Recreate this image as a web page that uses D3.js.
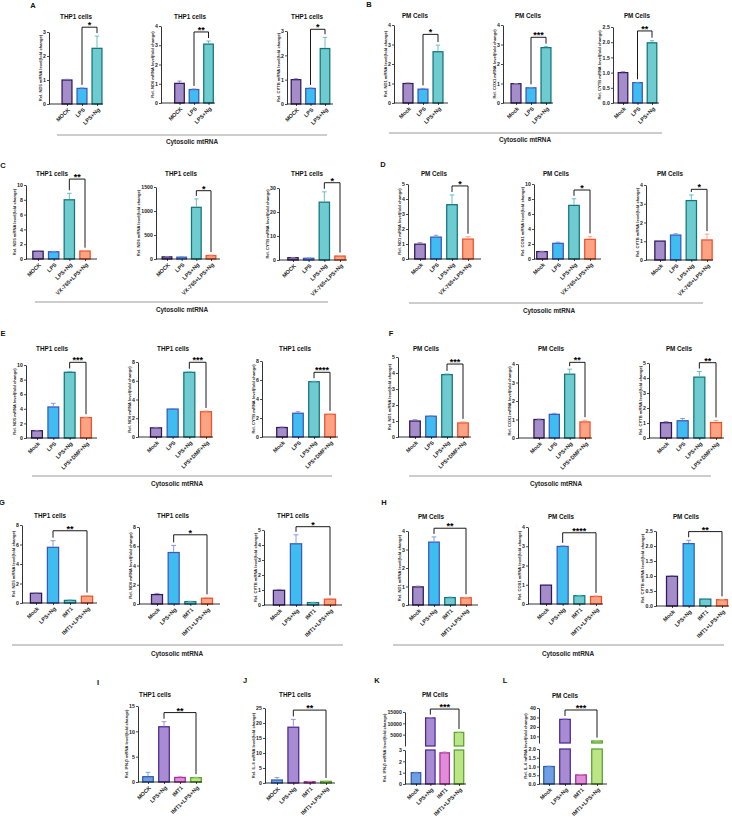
<!DOCTYPE html>
<html>
<head>
<meta charset="utf-8">
<script src="https://cdn.jsdelivr.net/npm/d3@7"></script>
<style>
  body { margin: 0; background: #fff; }
  svg { display: block; font-family: "Liberation Sans", Arial, Helvetica, sans-serif; }
</style>
</head>
<body>
<svg id="fig" width="732" height="819"></svg>
<script>
// ---- categories ----
const catTHP = ["MOCK", "LPS", "LPS+Ng"];
const catPM = ["Mock", "LPS", "LPS+Ng"];
const catTHPvx = ["MOCK", "LPS", "LPS+Ng", "VX-765+LPS+Ng"];
const catPMvx = ["Mock", "LPS", "LPS+Ng", "VX-765+LPS+Ng"];
const catDMF = ["Mock", "LPS", "LPS+Ng", "LPS+DMF+Ng"];
const catIMT = ["Mock", "LPS+Ng", "IMT1", "IMT1+LPS+Ng"];
const catIMTcap = ["MOCK", "LPS+Ng", "IMT1", "IMT1+LPS+Ng"];

const genesTHP = ["ND5", "ND6", "CYTB"];
const genesPM = ["ND1", "COX1", "CYTB"];

// ---- means and SD (one row per gene) ----
const valA = [[1.0, 0.65, 2.32], [1.02, 0.70, 3.06], [1.0, 0.64, 2.28]];
const errA = [[0.03, 0.02, 0.51], [0.12, 0.03, 0.16], [0.04, 0.02, 0.46]];
const valB = [[1.0, 0.71, 2.63], [0.99, 0.78, 2.84], [1.0, 0.67, 1.98]];
const errB = [[0.03, 0.04, 0.34], [0.01, 0.02, 0.05], [0.03, 0.01, 0.07]];
const valC = [[1.05, 0.98, 8.0, 1.08], [45, 38, 1077, 72], [0.97, 0.72, 24.1, 1.65]];
const errC = [[0.05, 0.05, 0.88, 0.04], [8, 6, 175, 10], [0.1, 0.08, 4.3, 0.2]];
const valD = [[0.99, 1.46, 3.62, 1.33], [0.99, 2.09, 7.15, 2.62], [1.01, 1.33, 3.17, 1.07]];
const errD = [[0.1, 0.12, 0.65, 0.16], [0.03, 0.16, 0.88, 0.4], [0.03, 0.07, 0.3, 0.31]];
const valE = [[1.0, 4.25, 9.0, 2.8], [0.98, 2.98, 6.9, 2.7], [1.0, 2.5, 5.82, 2.39]];
const errE = [[0.04, 0.5, 0.12, 0.05], [0.05, 0.06, 0.06, 0.08], [0.05, 0.16, 0.05, 0.04]];
const valF = [[1.0, 1.3, 3.9, 0.88], [1.0, 1.28, 3.45, 0.87], [1.02, 1.15, 4.06, 1.03]];
const errF = [[0.08, 0.02, 0.04, 0.07], [0.02, 0.05, 0.27, 0.09], [0.07, 0.15, 0.37, 0.14]];
const valG = [[1.0, 5.71, 0.27, 0.7], [0.98, 5.35, 0.25, 0.6], [0.98, 4.08, 0.16, 0.39]];
const errG = [[0.04, 0.68, 0.04, 0.06], [0.12, 0.74, 0.03, 0.09], [0.06, 0.6, 0.02, 0.05]];
const valH = [[0.98, 3.4, 0.4, 0.39], [0.98, 2.99, 0.43, 0.39], [0.99, 2.08, 0.23, 0.21]];
const errH = [[0.04, 0.28, 0.03, 0.03], [0.03, 0.03, 0.02, 0.03], [0.02, 0.11, 0.01, 0.01]];
const valI = [1.05, 10.9, 0.9, 0.85];
const errI = [0.85, 1.0, 0.15, 0.1];
const valJ = [1.0, 18.6, 0.45, 0.55];
const errJ = [0.8, 2.6, 0.1, 0.12];
const valK = [1.0, 12400, 2.75, 6000];
const errK = [0.04, 150, 0.08, 150];
const valL = [1.0, 28, 0.52, 5.2];
const errL = [0.02, 0.4, 0.02, 0.3];

// ---- y axis [max, step] ----
const axA = [[3, 1], [4, 1], [3, 1]];
const axB = [[4, 1], [4, 1], [2.5, 0.5]];
const axC = [[10, 2], [1500, 500], [30, 10]];
const axD = [[5, 1], [10, 2], [4, 1]];
const axE = [[10, 2], [8, 2], [8, 2]];
const axF = [[5, 1], [4, 1], [5, 1]];
const axG = [[8, 2], [8, 2], [5, 1]];
const axH = [[4, 1], [4, 1], [2.5, 0.5]];
const axI = [15, 5];
const axJ = [25, 5];
const ticksKlow = [0, 1, 2, 3], ticksKup = [5000, 10000, 15000];
const ticksLlow = [0, 0.5, 1.0, 1.5, 2.0], ticksLup = [10, 20, 30, 40];

// ---- significance labels and bracket level (data units) ----
const sigA = ["*", "**", "*"], brA = [3.2, 3.69, 3.07];
const sigB = ["*", "***", "**"], brB = [3.52, 3.37, 2.37];
const sigC = ["**", "*", "*"], brC = [10.8, 1423, 32.2];
const sigD = ["*", "*", "*"], brD = [4.87, 9.2, 3.77];
const sigE = ["***", "***", "****"], brE = [10.37, 7.97, 6.81];
const sigF = ["***", "**", "**"], brF = [4.56, 4.09, 5.02];
const sigG = ["**", "*", "*"], brG = [7.41, 7.19, 5.22];
const sigH = ["**", "****", "**"], brH = [4.15, 3.7, 2.48];

// ---- colours ----
const colMock = { fill: "#a48dc9", stroke: "#2c1a5a", err: "#8f7fc0" };
const colLPS = { fill: "#3fbdf1", stroke: "#3c57bd", err: "#7d8fdc" };
const colLPSNg = { fill: "#6ecbd0", stroke: "#13747c", err: "#58b7c0" };
const colInh = { fill: "#fba383", stroke: "#f0502a", err: "#f6a085" };
const colBlue = { fill: "#6f9fe2", stroke: "#2e5cb0", err: "#6f9fe2" };
const colViolet = { fill: "#a88bd3", stroke: "#4a2993", err: "#9b84cf" };
const colPink = { fill: "#e28bd9", stroke: "#a42f9a", err: "#d88ad0" };
const colGreen = { fill: "#bde486", stroke: "#55a12c", err: "#a8d880" };

// ---- layout: [axisX, axisEnd, firstBar, lastBar, yTop, yBot, titleX] ----
const boxA = [[49, 103, 67, 97, 32, 104, 76], [161, 215, 179.5, 208.5, 26, 103, 190], [287, 333, 296, 325, 31, 104, 307]];
const boxB = [[394, 448, 408, 438, 25, 103, 415], [503, 553, 516, 546, 25, 103, 528], [613, 659, 623, 652, 27, 103, 637]];
const boxC = [[26, 97, 38, 85, 185, 259, 52], [156, 220, 167, 211, 187, 259, 181], [279, 347, 293, 340, 188, 260, 307]];
const boxD = [[408, 481, 420, 468, 184, 259, 434], [534, 601, 542, 590, 184, 259, 556], [646, 713, 660, 707, 185, 260, 670]];
const boxE = [[26, 97, 37, 86, 365, 438, 52], [138, 213, 156, 206, 362, 437, 173], [262, 338, 282, 330, 361, 437, 295]];
const boxF = [[398, 471, 415, 463, 357, 437, 426], [518, 592, 539, 585, 364, 438, 551], [649, 724, 666, 716, 363, 438, 679]];
const boxG = [[22, 97, 36, 87, 525, 603, 50], [139, 220, 157, 207, 527, 604, 173], [264, 342, 279, 330, 530, 605, 293]];
const boxH = [[408, 478, 418, 466, 531, 605, 431], [528, 603, 546, 596, 527, 604, 561], [656, 729, 672, 722, 531, 606, 686]];

const svg = d3.select("#fig");

function fmtFor(step) {
  return step < 1 ? d3.format(".1f") : d3.format("d");
}

// generic bar panel; segs lets an axis be broken in two pieces
function drawPanel(o) {
  const g = svg.append("g");
  const x = d3.scalePoint().domain(o.cats).range([o.c0, o.cN]);
  const bw = x.step() * 0.66;
  const segs = o.segs.map(s => Object.assign({}, s, {
    sc: d3.scaleLinear().domain([s.d0, s.d1]).range([s.r0, s.r1])
  }));
  const top = segs[segs.length - 1];

  function yOf(v) {
    for (const s of segs) {
      if (v <= s.d1) return v < s.d0 ? s.r0 : s.sc(v);
    }
    return top.sc(v);
  }

  // y axis pieces
  let minX = 0;
  segs.forEach(s => {
    const ya = g.append("g").attr("transform", `translate(${o.x0},0)`)
      .call(d3.axisLeft(s.sc).tickValues(s.ticks).tickSize(2).tickPadding(1.2).tickSizeOuter(0).tickFormat(s.fmt));
    ya.attr("font-family", null);
    ya.select(".domain").attr("stroke", "#000").attr("stroke-width", 0.8);
    ya.selectAll(".tick line").attr("stroke", "#000").attr("stroke-width", 0.7);
    ya.selectAll("text").attr("font-size", 5.2).attr("font-weight", "bold").attr("fill", "#222");
    const bb = ya.node().getBBox();
    minX = Math.min(minX, bb.x);
  });

  g.append("text")
    .attr("transform", `translate(${o.x0 + minX - 1.2},${(o.yTop + o.yBot) / 2}) rotate(-90)`)
    .attr("text-anchor", "middle")
    .attr("font-size", 4.1).attr("font-weight", "bold").attr("fill", "#222")
    .text(o.ylab);

  // bars (one piece per axis segment the value reaches)
  o.vals.forEach((v, i) => {
    const c = o.cols[i];
    const cx = x(o.cats[i]);
    segs.forEach((s, k) => {
      if (k > 0 && v <= segs[k - 1].d1) return;
      const yt = s.sc(Math.min(v, s.d1));
      g.append("rect")
        .attr("x", cx - bw / 2).attr("y", yt)
        .attr("width", bw).attr("height", Math.max(0, s.r0 - yt))
        .attr("fill", c.fill).attr("stroke", c.stroke).attr("stroke-width", 1.25);
    });
    // error bar (mean + SD)
    const e = o.errs[i];
    const y1 = yOf(v), y2 = yOf(v + e);
    g.append("line").attr("x1", cx).attr("x2", cx).attr("y1", y1 - 0.6).attr("y2", y2)
      .attr("stroke", c.err).attr("stroke-width", 0.9);
    g.append("line").attr("x1", cx - bw * 0.22).attr("x2", cx + bw * 0.22).attr("y1", y2).attr("y2", y2)
      .attr("stroke", c.err).attr("stroke-width", 0.9);
  });

  // x axis
  g.append("line").attr("x1", o.x0).attr("x2", o.x1).attr("y1", o.yBot).attr("y2", o.yBot)
    .attr("stroke", "#000").attr("stroke-width", 0.8);
  const xa = g.append("g").attr("transform", `translate(0,${o.yBot})`)
    .call(d3.axisBottom(x).tickSize(2).tickSizeOuter(0));
  xa.select(".domain").remove();
  xa.attr("font-family", null);
  xa.selectAll(".tick line").attr("stroke", "#000").attr("stroke-width", 0.7);
  xa.selectAll("text")
    .attr("x", 0).attr("y", 0).attr("dy", "0.35em")
    .attr("transform", "translate(1.4,4.8) rotate(-45)")
    .attr("text-anchor", "end")
    .attr("font-size", 5.5).attr("font-weight", "bold").attr("fill", "#222");

  // title
  g.append("text").attr("x", o.tx).attr("y", o.ty + 2.2)
    .attr("text-anchor", "middle").attr("font-size", 6.3).attr("font-weight", "bold")
    .attr("fill", "#111").text(o.title);

  // significance bracket
  const [i, j] = o.pair;
  const xi = x(o.cats[i]), xj = x(o.cats[j]);
  const yb = yOf(o.br);
  const li = yOf(o.vals[i] + o.errs[i]) - 3;
  const lj = yOf(o.vals[j] + o.errs[j]) - 3;
  g.append("path")
    .attr("d", `M${xi},${li}V${yb}H${xj}V${lj}`)
    .attr("fill", "none").attr("stroke", "#000").attr("stroke-width", 0.9);
  g.append("text").attr("x", (xi + xj) / 2).attr("y", yb + 1)
    .attr("text-anchor", "middle").attr("font-size", 9).attr("font-weight", "bold")
    .attr("fill", "#000").text(o.sig);
}

function simpleSeg(max, step, yTop, yBot) {
  return [{ d0: 0, d1: max, r0: yBot, r1: yTop, ticks: d3.range(0, max + step / 2, step), fmt: fmtFor(step) }];
}

// ---- rows A to H ----
const rows = [
  { cats: catTHP, genes: genesTHP, cell: "THP1 cells", val: valA, err: errA, ax: axA, sig: sigA, br: brA, pair: [1, 2], cols: [colMock, colLPS, colLPSNg], box: boxA, ty: 17 },
  { cats: catPM, genes: genesPM, cell: "PM Cells", val: valB, err: errB, ax: axB, sig: sigB, br: brB, pair: [1, 2], cols: [colMock, colLPS, colLPSNg], box: boxB, ty: 16 },
  { cats: catTHPvx, genes: genesTHP, cell: "THP1 cells", val: valC, err: errC, ax: axC, sig: sigC, br: brC, pair: [2, 3], cols: [colMock, colLPS, colLPSNg, colInh], box: boxC, ty: 174 },
  { cats: catPMvx, genes: genesPM, cell: "PM Cells", val: valD, err: errD, ax: axD, sig: sigD, br: brD, pair: [2, 3], cols: [colMock, colLPS, colLPSNg, colInh], box: boxD, ty: 174 },
  { cats: catDMF, genes: genesTHP, cell: "THP1 cells", val: valE, err: errE, ax: axE, sig: sigE, br: brE, pair: [2, 3], cols: [colMock, colLPS, colLPSNg, colInh], box: boxE, ty: 349 },
  { cats: catDMF, genes: genesPM, cell: "PM Cells", val: valF, err: errF, ax: axF, sig: sigF, br: brF, pair: [2, 3], cols: [colMock, colLPS, colLPSNg, colInh], box: boxF, ty: 349 },
  { cats: catIMT, genes: genesTHP, cell: "THP1 cells", val: valG, err: errG, ax: axG, sig: sigG, br: brG, pair: [1, 3], cols: [colMock, colLPS, colLPSNg, colInh], box: boxG, ty: 516 },
  { cats: catIMT, genes: genesPM, cell: "PM Cells", val: valH, err: errH, ax: axH, sig: sigH, br: brH, pair: [1, 3], cols: [colMock, colLPS, colLPSNg, colInh], box: boxH, ty: 517 }
];

rows.forEach(r => {
  r.genes.forEach((gene, k) => {
    const b = r.box[k];
    drawPanel({
      cats: r.cats, vals: r.val[k], errs: r.err[k], cols: r.cols,
      x0: b[0], x1: b[1], c0: b[2], cN: b[3], yTop: b[4], yBot: b[5], tx: b[6], ty: r.ty,
      segs: simpleSeg(r.ax[k][0], r.ax[k][1], b[4], b[5]),
      title: r.cell, ylab: `Rel. ${gene} mRNA level(fold change)`,
      pair: r.pair, sig: r.sig[k], br: r.br[k]
    });
  });
});

// ---- bottom row I to L ----
const colsIMT = [colBlue, colViolet, colPink, colGreen];
drawPanel({
  cats: catIMTcap, vals: valI, errs: errI, cols: colsIMT,
  x0: 138, x1: 202, c0: 148, cN: 196, yTop: 706, yBot: 782, tx: 155, ty: 695,
  segs: simpleSeg(axI[0], axI[1], 706, 782),
  title: "THP1 cells", ylab: "Rel. IFN-β mRNA level(fold change)", pair: [1, 3], sig: "**", br: 13.7
});
drawPanel({
  cats: catIMTcap, vals: valJ, errs: errJ, cols: colsIMT,
  x0: 265, x1: 335, c0: 277, cN: 326, yTop: 708, yBot: 783, tx: 295, ty: 695,
  segs: simpleSeg(axJ[0], axJ[1], 708, 783),
  title: "THP1 cells", ylab: "Rel. IL-6 mRNA level(fold change)", pair: [1, 3], sig: "**", br: 24.3
});
drawPanel({
  cats: catIMT, vals: valK, errs: errK, cols: colsIMT,
  x0: 405, x1: 466, c0: 416, cN: 459, yTop: 712, yBot: 784, tx: 435, ty: 695,
  segs: [
    { d0: 0, d1: 3, r0: 784, r1: 750, ticks: ticksKlow, fmt: d3.format("d") },
    { d0: 0, d1: 15000, r0: 746, r1: 712, ticks: ticksKup, fmt: d3.format("d") }
  ],
  title: "PM Cells", ylab: "Rel. IFN-β mRNA level(fold change)", pair: [1, 3], sig: "***", br: 16300
});
drawPanel({
  cats: catIMT, vals: valL, errs: errL, cols: colsIMT,
  x0: 539, x1: 607, c0: 549, cN: 597, yTop: 708, yBot: 784, tx: 565, ty: 696,
  segs: [
    { d0: 0, d1: 2, r0: 784, r1: 749, ticks: ticksLlow, fmt: d3.format(".1f") },
    { d0: 3, d1: 40, r0: 743, r1: 708, ticks: ticksLup, fmt: d3.format("d") }
  ],
  title: "PM Cells", ylab: "Rel. IL-6 mRNA level(fold change)", pair: [1, 3], sig: "***", br: 37.9
});

// ---- group underlines "Cytosolic mtRNA": [y, xStart, xEnd, textX, textY] ----
const cyto = [
  [135, 57, 327, 192, 142], [133, 389, 662, 525, 140],
  [302, 35, 328, 182, 310], [303, 409, 703, 549, 311],
  [476, 32, 332, 177, 484], [476, 409, 711, 556, 484],
  [645, 12, 343, 177, 654], [645, 393, 724, 568, 654]
];
cyto.forEach(c => {
  svg.append("line").attr("x1", c[1]).attr("x2", c[2]).attr("y1", c[0]).attr("y2", c[0])
    .attr("stroke", "#9a9a9a").attr("stroke-width", 1);
  svg.append("text").attr("x", c[3]).attr("y", c[4] + 2.3)
    .attr("text-anchor", "middle").attr("font-size", 6.4).attr("font-weight", "bold")
    .attr("fill", "#222").text("Cytosolic mtRNA");
});

// ---- panel letters ----
const letters = [
  ["A", 33, 5], ["B", 369, 4], ["C", 3, 165], ["D", 383, 164],
  ["E", 3, 333], ["F", 391, 333], ["G", 2, 502], ["H", 384, 502],
  ["I", 98, 682], ["J", 245, 680], ["K", 377, 680], ["L", 505, 680]
];
letters.forEach(l => {
  svg.append("text").attr("x", l[1]).attr("y", l[2] + 2.8)
    .attr("text-anchor", "middle").attr("font-size", 7.5).attr("font-weight", "bold")
    .attr("fill", "#111").text(l[0]);
});
</script>
</body>
</html>
